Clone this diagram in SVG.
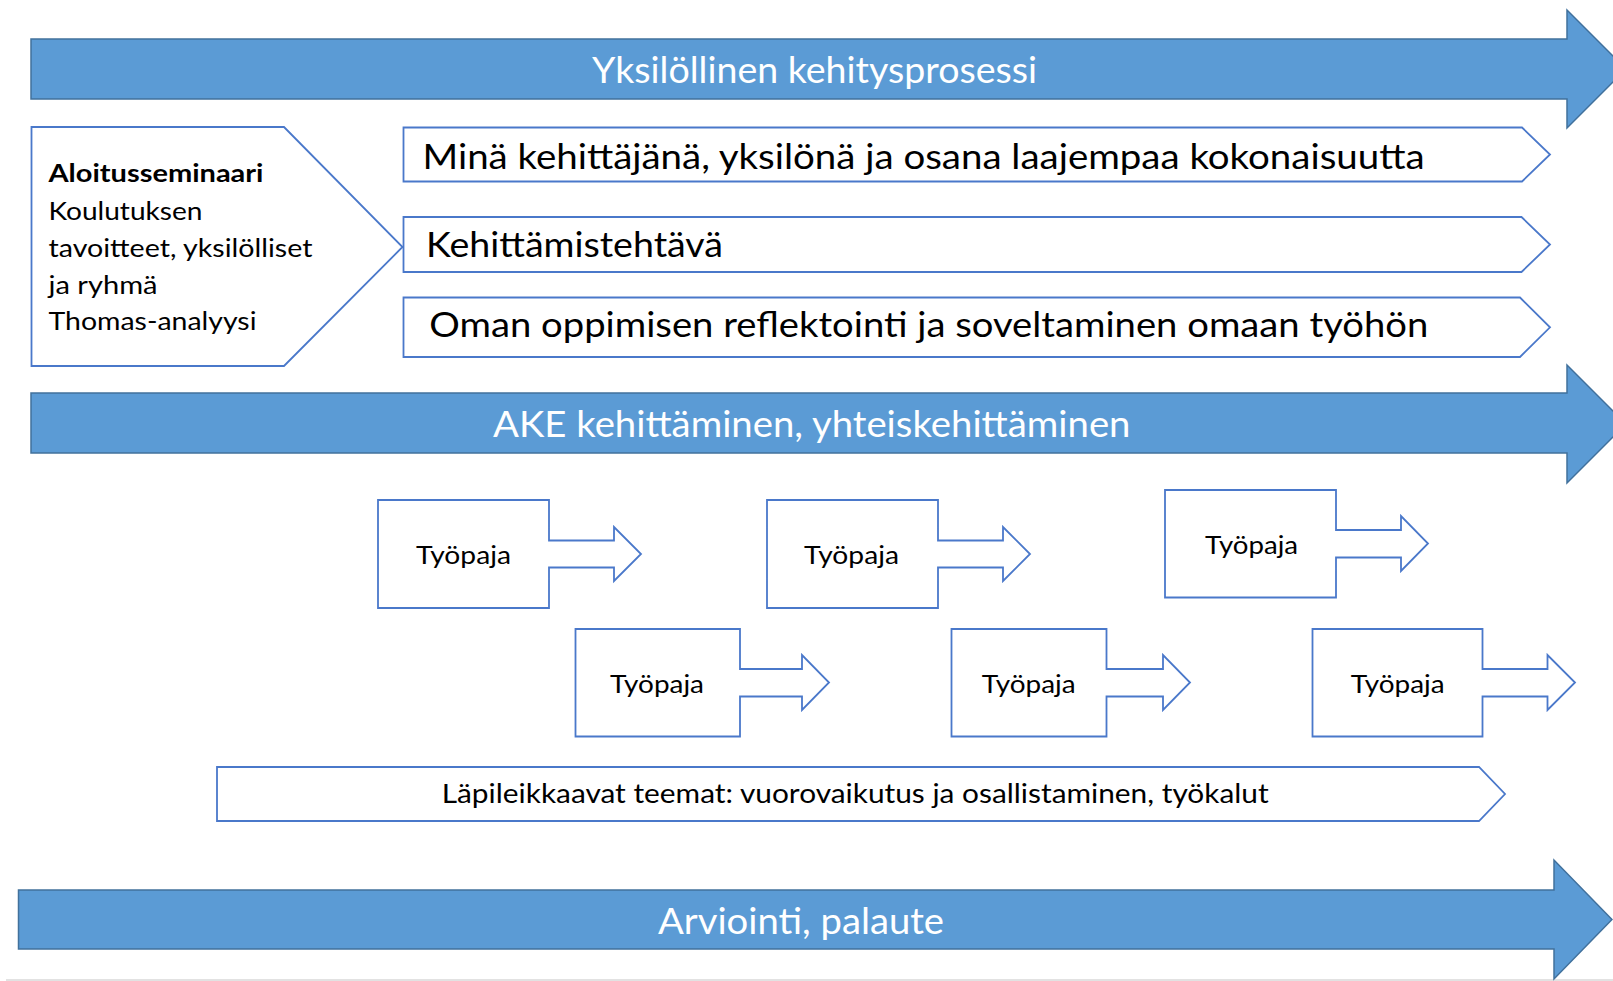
<svg xmlns="http://www.w3.org/2000/svg" width="1613" height="981" viewBox="0 0 1613 981">
<style>
.big{fill:#5B9BD5;stroke:#41719C;stroke-width:1.5;}
.out{fill:#FFFFFF;stroke:#4A78CA;stroke-width:1.8;}
.wt{fill:#FFFFFF;font-family:Lato,"Open Sans",sans-serif;font-size:37px;}
.bt{fill:#000000;font-family:Lato,"Open Sans",sans-serif;}
.l1{font-size:35px;}
.l2{font-size:25.6px;}
.l3{font-size:24.7px;}
.l4{font-size:26.5px;}
</style>
<rect width="1613" height="981" fill="#FFFFFF"/>
<line x1="6" y1="980" x2="1613" y2="980" stroke="#D9D9D9" stroke-width="1.5"/>
<g id="connectors"></g>

<g id="arrow-yksilollinen">
<polygon class="big" points="31,39 1567,39 1567,10 1626,69 1567,128 1567,99 31,99"/>
<text class="wt" x="592" y="83" textLength="445" lengthAdjust="spacingAndGlyphs">Yksilöllinen kehitysprosessi</text>
</g>

<g id="aloitusseminaari">
<polygon class="out" points="31.5,127 284,127 402.5,247 284,366 31.5,366"/>
<text class="bt l2" x="48.5" y="182" font-weight="bold" textLength="215" lengthAdjust="spacingAndGlyphs">Aloitusseminaari</text>
<text class="bt l2" x="48.5" y="220" textLength="154" lengthAdjust="spacingAndGlyphs">Koulutuksen</text>
<text class="bt l2" x="48.5" y="257" textLength="264" lengthAdjust="spacingAndGlyphs">tavoitteet, yksilölliset</text>
<text class="bt l2" x="48.5" y="293.5" textLength="109" lengthAdjust="spacingAndGlyphs">ja ryhmä</text>
<text class="bt l2" x="48.5" y="330" textLength="208" lengthAdjust="spacingAndGlyphs">Thomas-analyysi</text>
</g>

<g id="mina-kehittajana">
<polygon class="out" points="403.5,127.5 1522,127.5 1550,154.5 1522,181.5 403.5,181.5"/>
<text class="bt l1" x="422.5" y="168.5" textLength="1002" lengthAdjust="spacingAndGlyphs">Minä kehittäjänä, yksilönä ja osana laajempaa kokonaisuutta</text>
</g>

<g id="kehittamistehtava">
<polygon class="out" points="403.5,217 1521.5,217 1550,244.5 1521.5,272 403.5,272"/>
<text class="bt l1" x="426" y="257" textLength="297" lengthAdjust="spacingAndGlyphs">Kehittämistehtävä</text>
</g>

<g id="oman-oppimisen">
<polygon class="out" points="403.5,297.5 1520,297.5 1550,327.3 1520,357 403.5,357"/>
<text class="bt l1" x="429.3" y="337" textLength="999" lengthAdjust="spacingAndGlyphs">Oman oppimisen reflektointi ja soveltaminen omaan työhön</text>
</g>

<g id="arrow-ake">
<polygon class="big" points="31,393 1567,393 1567,365 1626,424 1567,483 1567,453 31,453"/>
<text class="wt" x="493" y="437" textLength="637.5" lengthAdjust="spacingAndGlyphs">AKE kehittäminen, yhteiskehittäminen</text>
</g>

<g id="tyopaja-1">
<polygon class="out" points="378,500 549,500 549,540.5 614,540.5 614,527 641,554 614,581 614,567.5 549,567.5 549,608 378,608"/>
<text class="bt l3" x="416" y="564" textLength="95" lengthAdjust="spacingAndGlyphs">Työpaja</text>
</g>

<g id="tyopaja-2">
<polygon class="out" points="767,500 938,500 938,540.5 1003,540.5 1003,527 1030,554 1003,581 1003,567.5 938,567.5 938,608 767,608"/>
<text class="bt l3" x="804" y="564" textLength="95" lengthAdjust="spacingAndGlyphs">Työpaja</text>
</g>

<g id="tyopaja-3">
<polygon class="out" points="1165,490 1336,490 1336,530 1401,530 1401,516 1428,543.5 1401,571 1401,557.5 1336,557.5 1336,597.5 1165,597.5"/>
<text class="bt l3" x="1205" y="553.5" textLength="93" lengthAdjust="spacingAndGlyphs">Työpaja</text>
</g>

<g id="tyopaja-4">
<polygon class="out" points="575.5,629 740,629 740,669 802,669 802,655 829,682.5 802,710 802,696.5 740,696.5 740,736.5 575.5,736.5"/>
<text class="bt l3" x="610" y="692.5" textLength="94" lengthAdjust="spacingAndGlyphs">Työpaja</text>
</g>

<g id="tyopaja-5">
<polygon class="out" points="951.5,629 1106.5,629 1106.5,669 1163,669 1163,655 1190,682.5 1163,710 1163,696.5 1106.5,696.5 1106.5,736.5 951.5,736.5"/>
<text class="bt l3" x="981.7" y="692.5" textLength="94" lengthAdjust="spacingAndGlyphs">Työpaja</text>
</g>

<g id="tyopaja-6">
<polygon class="out" points="1312.5,629 1482.5,629 1482.5,669 1547.5,669 1547.5,655 1575,682.5 1547.5,710 1547.5,696.5 1482.5,696.5 1482.5,736.5 1312.5,736.5"/>
<text class="bt l3" x="1350.7" y="692.5" textLength="94" lengthAdjust="spacingAndGlyphs">Työpaja</text>
</g>

<g id="lapileikkaavat-teemat">
<polygon class="out" points="217,767 1479,767 1505,794 1479,821 217,821"/>
<text class="bt l4" x="441.7" y="803" textLength="827" lengthAdjust="spacingAndGlyphs">Läpileikkaavat teemat: vuorovaikutus ja osallistaminen, työkalut</text>
</g>

<g id="arrow-arviointi">
<polygon class="big" points="18.5,890 1554,890 1554,860 1612,919.5 1554,979 1554,949 18.5,949"/>
<text class="wt" x="658" y="934" textLength="286" lengthAdjust="spacingAndGlyphs">Arviointi, palaute</text>
</g>
</svg>
